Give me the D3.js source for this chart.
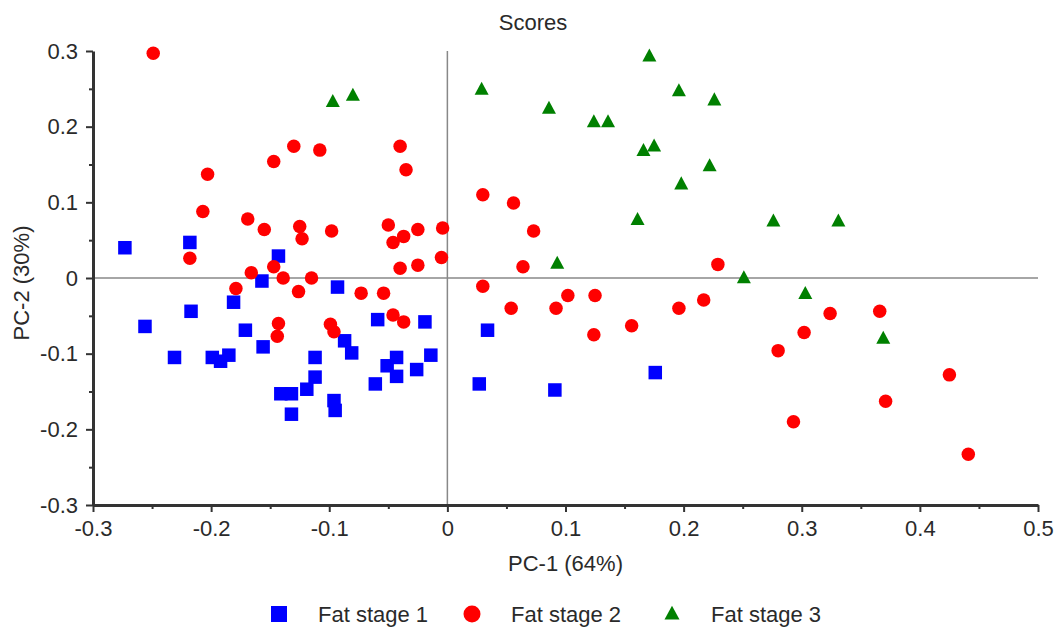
<!DOCTYPE html>
<html>
<head>
<meta charset="utf-8">
<script src="https://cdn.jsdelivr.net/npm/d3@7"></script>
<style>
  body { margin: 0; background: #fff; }
  text { font-family: "Liberation Sans", Arial, sans-serif; fill: #2a2a2a; }
</style>
</head>
<body>
<svg id="chart" width="1057" height="629"></svg>
<script>
// PCA scores: [PC-1, PC-2]
const stage1 = [
  [-0.273, 0.040], [-0.218, 0.047], [-0.256, -0.064], [-0.231, -0.105], [-0.217, -0.044],
  [-0.199, -0.105], [-0.192, -0.110], [-0.185, -0.102], [-0.181, -0.032], [-0.171, -0.069],
  [-0.157, -0.004], [-0.156, -0.091], [-0.143, 0.029], [-0.141, -0.153], [-0.132, -0.153],
  [-0.132, -0.180], [-0.119, -0.147], [-0.112, -0.105], [-0.112, -0.131], [-0.096, -0.162],
  [-0.095, -0.175], [-0.093, -0.012], [-0.087, -0.083], [-0.081, -0.099], [-0.059, -0.055],
  [-0.019, -0.058], [-0.014, -0.102], [-0.043, -0.105], [-0.051, -0.116], [-0.043, -0.130],
  [-0.026, -0.121], [-0.061, -0.140], [0.034, -0.069], [0.027, -0.140], [0.091, -0.148],
  [0.176, -0.125]
];
const stage2 = [
  [-0.249, 0.297], [-0.203, 0.137], [-0.207, 0.088], [-0.218, 0.026], [-0.169, 0.078],
  [-0.155, 0.064], [-0.147, 0.154], [-0.130, 0.174], [-0.108, 0.169], [-0.125, 0.068],
  [-0.123, 0.052], [-0.098, 0.062], [-0.147, 0.015], [-0.166, 0.007], [-0.139, 0.000],
  [-0.115, 0.000], [-0.179, -0.014], [-0.126, -0.018], [-0.143, -0.060], [-0.144, -0.077],
  [-0.099, -0.061], [-0.096, -0.071], [-0.073, -0.020], [-0.054, -0.020], [-0.046, -0.049],
  [-0.037, -0.058], [0.030, -0.011], [0.054, -0.040], [0.092, -0.040], [0.102, -0.023],
  [0.125, -0.023], [0.124, -0.075], [0.156, -0.063], [0.196, -0.040], [0.217, -0.029],
  [-0.040, 0.174], [-0.035, 0.143], [-0.050, 0.070], [-0.037, 0.055], [-0.046, 0.047],
  [-0.025, 0.064], [-0.004, 0.066], [-0.040, 0.013], [-0.025, 0.017], [-0.005, 0.027],
  [0.030, 0.110], [0.056, 0.099], [0.073, 0.062], [0.064, 0.015], [0.229, 0.018],
  [0.280, -0.096], [0.302, -0.072], [0.324, -0.047], [0.366, -0.044], [0.293, -0.190],
  [0.371, -0.163], [0.425, -0.128], [0.441, -0.233]
];
const stage3 = [
  [-0.097, 0.233], [-0.080, 0.241], [0.029, 0.249], [0.171, 0.293], [0.196, 0.247],
  [0.086, 0.224], [0.124, 0.206], [0.136, 0.206], [0.166, 0.168], [0.175, 0.174],
  [0.198, 0.124], [0.161, 0.077], [0.093, 0.019], [0.226, 0.235], [0.222, 0.148],
  [0.276, 0.075], [0.331, 0.075], [0.251, 0.000], [0.303, -0.021], [0.369, -0.080]
];
const seriesNames = ["Fat stage 1", "Fat stage 2", "Fat stage 3"];
const xTicks = [-0.3, -0.2, -0.1, 0, 0.1, 0.2, 0.3, 0.4, 0.5];
const yTicks = [-0.3, -0.2, -0.1, 0, 0.1, 0.2, 0.3];

const colors = ["#0000ff", "#ff0000", "#008000"];
const svg = d3.select("#chart");

const plotL = 93, plotR = 1038, plotT = 51, plotB = 505;
const x = d3.scaleLinear().domain([-0.3, 0.5]).range([plotL, plotR]);
const y = d3.scaleLinear().domain([-0.3, 0.3]).range([plotB, plotT]);

// shapes: square, circle, triangle
function marker(g, k, s) {
  if (k === 0) {
    g.append("rect").attr("x", -s / 2).attr("y", -s / 2).attr("width", s).attr("height", s)
      .attr("fill", colors[0]);
  } else if (k === 1) {
    g.append("circle").attr("r", s / 2).attr("fill", colors[1]);
  } else {
    const h = s * 0.93;
    g.append("path")
      .attr("d", "M0," + (-h * 0.6) + "L" + (s / 2) + "," + (h * 0.4) + "L" + (-s / 2) + "," + (h * 0.4) + "Z")
      .attr("fill", colors[2]);
  }
}

// zero lines
svg.append("line").attr("x1", x(0)).attr("x2", x(0)).attr("y1", plotT).attr("y2", plotB)
  .attr("stroke", "#888").attr("stroke-width", 1.5);
svg.append("line").attr("x1", plotL).attr("x2", plotR).attr("y1", y(0)).attr("y2", y(0))
  .attr("stroke", "#888").attr("stroke-width", 1.5);

// points
[stage1, stage2, stage3].forEach(function(data, k) {
  const size = [13.5, 13.5, 14][k];
  svg.append("g").selectAll("g")
    .data(data)
    .enter()
    .append("g")
    .attr("transform", d => "translate(" + x(d[0]) + "," + y(d[1]) + ")")
    .each(function() { marker(d3.select(this), k, size); });
});

// minor ticks
const xMinor = d3.range(-0.25, 0.5, 0.1).map(v => +v.toFixed(2));
const yMinor = d3.range(-0.25, 0.3, 0.1).map(v => +v.toFixed(2));

svg.append("g").attr("transform", "translate(0," + plotB + ")")
  .call(d3.axisBottom(x).tickValues(xMinor).tickFormat("").tickSize(4).tickSizeOuter(0))
  .call(g => g.select(".domain").remove())
  .selectAll("line").attr("stroke", "#333").attr("stroke-width", 2);
svg.append("g").attr("transform", "translate(" + plotL + ",0)")
  .call(d3.axisLeft(y).tickValues(yMinor).tickFormat("").tickSize(4).tickSizeOuter(0))
  .call(g => g.select(".domain").remove())
  .selectAll("line").attr("stroke", "#333").attr("stroke-width", 2);

// major axes
const xAxis = svg.append("g").attr("transform", "translate(0," + plotB + ")")
  .call(d3.axisBottom(x).tickValues(xTicks).tickFormat(d3.format("")).tickSize(7).tickSizeOuter(0).tickPadding(8));
const yAxis = svg.append("g").attr("transform", "translate(" + plotL + ",0)")
  .call(d3.axisLeft(y).tickValues(yTicks).tickFormat(d3.format("")).tickSize(7).tickSizeOuter(0).tickPadding(8));
[xAxis, yAxis].forEach(function(a) {
  a.select(".domain").attr("stroke", "#333").attr("stroke-width", 3);
  a.selectAll(".tick line").attr("stroke", "#333").attr("stroke-width", 2);
  a.selectAll(".tick text").style("font-size", "22px").attr("fill", "#2a2a2a")
    .style("font-family", "'Liberation Sans', Arial, sans-serif");
});
// plain hyphen for the minus sign, as in the picture
xAxis.selectAll(".tick text").text(d => String(d));
yAxis.selectAll(".tick text").text(d => String(d));

// title and axis labels
svg.append("text").text("Scores").attr("x", 533).attr("y", 30)
  .attr("text-anchor", "middle").style("font-size", "22px");
svg.append("text").text("PC-1 (64%)").attr("x", (plotL + plotR) / 2).attr("y", 571)
  .attr("text-anchor", "middle").style("font-size", "22px");
svg.append("text").text("PC-2 (30%)")
  .attr("text-anchor", "middle").style("font-size", "22px")
  .attr("transform", "translate(29,283) rotate(-90)");

// legend
const legendX = [279, 472, 672];
const leg = svg.append("g");
seriesNames.forEach(function(name, k) {
  const g = leg.append("g").attr("transform", "translate(" + legendX[k] + ",614)");
  marker(g, k, [16, 17, 15][k]);
  g.append("text").text(name).attr("x", 39).attr("y", 8).style("font-size", "22px");
});
</script>
</body>
</html>
